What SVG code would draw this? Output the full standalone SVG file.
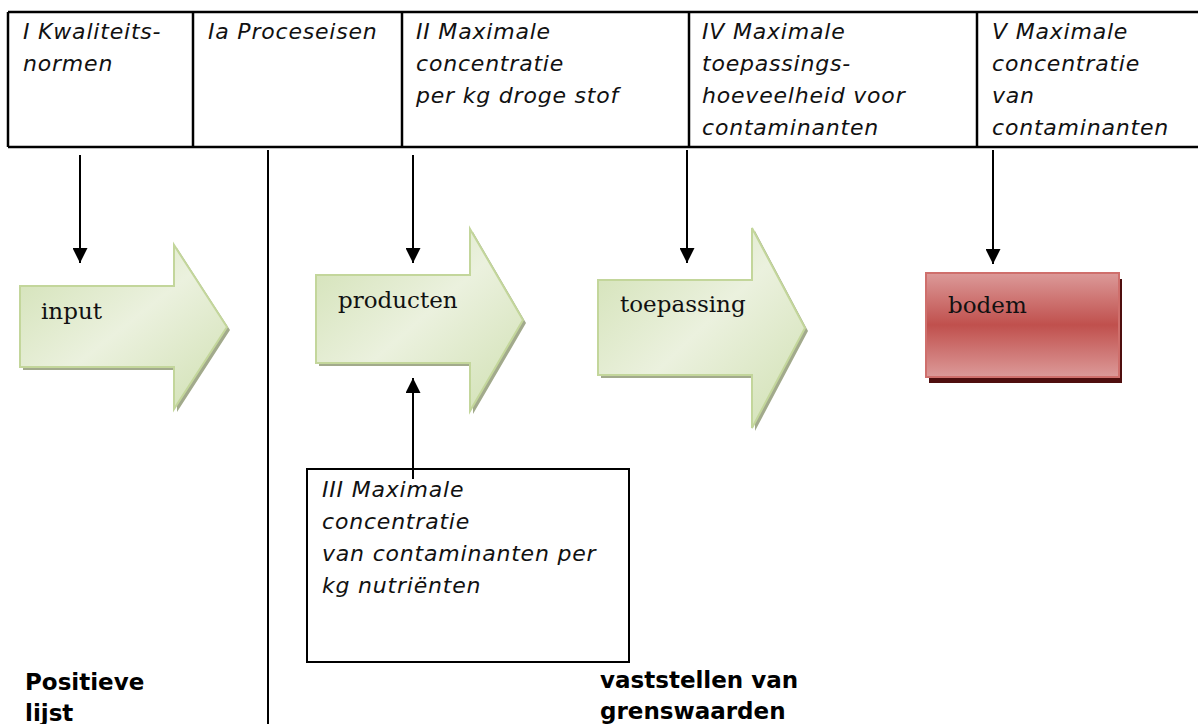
<svg xmlns="http://www.w3.org/2000/svg" width="1198" height="724" viewBox="0 0 1198 724">
<style>
.hdr{font-family:"DejaVu Sans","Verdana",sans-serif;font-style:italic;font-size:22px;letter-spacing:0.8px;fill:#111}
.lbl{font-family:"DejaVu Serif","Liberation Serif",serif;font-size:23px;fill:#111}
.bold{font-family:"DejaVu Sans","Verdana",sans-serif;font-weight:bold;font-size:23px;fill:#000}
.tbl{stroke:#000;stroke-width:2.5;fill:none}
.conn{stroke:#000;stroke-width:2;fill:none}
.garrow{fill:url(#gGreen);stroke:#c3d69b;stroke-width:2}
.gshadow{fill:#a2aa8c}
</style>
<defs>
<linearGradient id="gGreen" x1="0" y1="0" x2="1" y2="1">
<stop offset="0" stop-color="#d0e0b2"/>
<stop offset="0.5" stop-color="#ebf1de"/>
<stop offset="1" stop-color="#d0e0b2"/>
</linearGradient>
<linearGradient id="gRed" x1="0" y1="0" x2="0" y2="1">
<stop offset="0" stop-color="#dc9a99"/>
<stop offset="0.5" stop-color="#c0504d"/>
<stop offset="1" stop-color="#dc9a99"/>
</linearGradient>
<marker id="ah" markerWidth="15" markerHeight="15" refX="15" refY="7.5" orient="auto" markerUnits="userSpaceOnUse">
<path d="M0,0 L15,7.5 L0,15 Z" fill="#000"/>
</marker>
</defs>

<g id="table">
<line class="tbl" x1="8" y1="12" x2="1198" y2="12"/>
<line class="tbl" x1="8" y1="147" x2="1198" y2="147"/>
<line class="tbl" x1="8" y1="12" x2="8" y2="147"/>
<line class="tbl" x1="193" y1="12" x2="193" y2="147"/>
<line class="tbl" x1="402" y1="12" x2="402" y2="147"/>
<line class="tbl" x1="689" y1="12" x2="689" y2="147"/>
<line class="tbl" x1="977" y1="12" x2="977" y2="147"/>
</g>

<g id="col1"><text class="hdr" x="23" y="39">I Kwaliteits-</text><text class="hdr" x="23" y="71">normen</text></g>
<g id="col2"><text class="hdr" x="208" y="39">Ia Proceseisen</text></g>
<g id="col3"><text class="hdr" x="416" y="39">II Maximale</text><text class="hdr" x="416" y="71">concentratie</text><text class="hdr" x="416" y="103">per kg droge stof</text></g>
<g id="col4"><text class="hdr" x="702" y="39">IV Maximale</text><text class="hdr" x="702" y="71">toepassings-</text><text class="hdr" x="702" y="103">hoeveelheid voor</text><text class="hdr" x="702" y="135">contaminanten</text></g>
<g id="col5"><text class="hdr" x="992" y="39">V Maximale</text><text class="hdr" x="992" y="71">concentratie</text><text class="hdr" x="992" y="103">van</text><text class="hdr" x="992" y="135">contaminanten</text></g>

<g id="divider"><line x1="268" y1="150" x2="268" y2="724" stroke="#000" stroke-width="2"/></g>

<g id="input">
<path class="gshadow" d="M23,289 H177 V248 L230,330 L177,412 V370 H23 Z"/>
<path class="garrow" d="M20,286 H174 V245 L227,327 L174,409 V367 H20 Z"/>
<text class="lbl" x="41" y="319">input</text>
</g>

<g id="producten">
<path class="gshadow" d="M319,278 H473 V232 L526,323 L473,414 V366 H319 Z"/>
<path class="garrow" d="M316,275 H470 V229 L523,320 L470,411 V363 H316 Z"/>
<text class="lbl" x="338" y="308">producten</text>
</g>

<g id="toepassing">
<path class="gshadow" d="M601,283 H755 V231 L808,331 L755,431 V378 H601 Z"/>
<path class="garrow" d="M598,280 H752 V228 L805,328 L752,428 V375 H598 Z"/>
<text class="lbl" x="620" y="312">toepassing</text>
</g>

<g id="bodem">
<rect x="929" y="279" width="193" height="104" fill="#4f0e0e"/>
<rect x="926" y="273" width="193" height="104" fill="url(#gRed)" stroke="#cf6f6c" stroke-width="2"/>
<text class="lbl" x="948" y="313">bodem</text>
</g>

<g id="box3">
<rect x="307" y="469" width="322" height="193" fill="#fff" stroke="#000" stroke-width="2"/>
<text class="hdr" x="322" y="497">III Maximale</text>
<text class="hdr" x="322" y="529">concentratie</text>
<text class="hdr" x="322" y="561">van contaminanten per</text>
<text class="hdr" x="322" y="593">kg nutriënten</text>
</g>

<g id="connectors">
<line class="conn" x1="80" y1="155" x2="80" y2="263" marker-end="url(#ah)"/>
<line class="conn" x1="413" y1="155" x2="413" y2="263" marker-end="url(#ah)"/>
<line class="conn" x1="687" y1="150" x2="687" y2="263" marker-end="url(#ah)"/>
<line class="conn" x1="993" y1="150" x2="993" y2="264" marker-end="url(#ah)"/>
<line class="conn" x1="413" y1="479" x2="413" y2="378" marker-end="url(#ah)"/>
</g>

<g id="labels">
<text class="bold" x="25" y="690">Positieve</text>
<text class="bold" x="25" y="721">lijst</text>
<text class="bold" x="600" y="688">vaststellen van</text>
<text class="bold" x="600" y="719">grenswaarden</text>
</g>
</svg>
